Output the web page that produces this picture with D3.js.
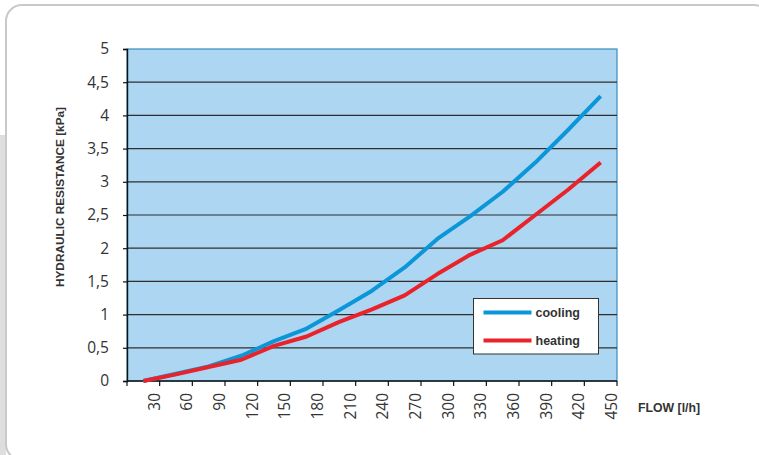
<!DOCTYPE html>
<html>
<head>
<meta charset="utf-8">
<script src="https://d3js.org/d3.v7.min.js"></script>
<style>
  body { margin: 0; background: #fff; }
  svg { display: block; }
</style>
</head>
<body>
<svg id="chart" width="759" height="455"></svg>
<script>
// flow categories [l/h]
const flows = [30, 60, 90, 120, 150, 180, 210, 240, 270, 300, 330, 360, 390, 420, 450];
// hydraulic resistance [kPa]
const cooling = [0, 0.11, 0.22, 0.38, 0.60, 0.79, 1.07, 1.36, 1.71, 2.14, 2.48, 2.85, 3.29, 3.78, 4.29];
const heating = [0, 0.10, 0.21, 0.32, 0.53, 0.67, 0.89, 1.08, 1.29, 1.61, 1.90, 2.12, 2.50, 2.88, 3.29];
const yTicks = [0, 0.5, 1, 1.5, 2, 2.5, 3, 3.5, 4, 4.5, 5];

const series = [
  { name: "cooling", values: cooling, colour: "#0a96d8" },
  { name: "heating", values: heating, colour: "#ea2229" },
];

const width = 759, height = 455;
const margin = { top: 49, right: 142, bottom: 74, left: 127 };
const plotW = width - margin.left - margin.right;
const plotH = height - margin.top - margin.bottom;

const svg = d3.select("#chart");

// panel background and rounded frame
svg.append("rect")
  .attr("x", 0).attr("y", 135).attr("width", 6).attr("height", 320)
  .attr("fill", "#dedede");
svg.append("rect")
  .attr("x", 6).attr("y", 5).attr("width", 764).attr("height", 455)
  .attr("rx", 16)
  .attr("fill", "#fff")
  .attr("stroke", "#c9c9c9")
  .attr("stroke-width", 2);

const g = svg.append("g")
  .attr("transform", `translate(${margin.left},${margin.top})`);

const x = d3.scaleBand().domain(flows).range([0, plotW]).padding(0);
const y = d3.scaleLinear().domain([0, 5]).range([plotH, 0]);

// plot area
g.append("rect")
  .attr("width", plotW).attr("height", plotH)
  .attr("fill", "#acd6f1")
  .attr("stroke", "#3a8dbd")
  .attr("stroke-width", 1.2);

// gridlines
g.append("g")
  .selectAll("line")
  .data(yTicks.filter((d) => d > 0 && d < 5))
  .join("line")
  .attr("x1", 0).attr("x2", plotW)
  .attr("y1", (d) => y(d)).attr("y2", (d) => y(d))
  .attr("stroke", "#2e2e2e")
  .attr("stroke-width", 1.2);

// y axis
const yAxis = g.append("g")
  .call(d3.axisLeft(y)
    .tickValues(yTicks)
    .tickSize(4)
    .tickPadding(14)
    .tickFormat((d) => String(d).replace(".", ",")));
yAxis.select(".domain").attr("stroke", "#111").attr("stroke-width", 1.4);
yAxis.selectAll(".tick line").attr("stroke", "#111").attr("stroke-width", 1.2);
yAxis.selectAll(".tick text")
  .attr("font-family", "Open Sans, sans-serif")
  .attr("font-size", 15.5)
  .attr("fill", "#333");

// x axis: ticks at band edges, labels on the right edge of each band
const xAxis = g.append("g").attr("transform", `translate(0,${plotH})`);
xAxis.append("line")
  .attr("x1", 0).attr("x2", plotW)
  .attr("stroke", "#111").attr("stroke-width", 1.4);
xAxis.append("line")
  .attr("x1", 0).attr("x2", 0).attr("y1", 0).attr("y2", 5)
  .attr("stroke", "#111").attr("stroke-width", 1.2);
const xt = xAxis.selectAll("g.xtick")
  .data(flows)
  .join("g")
  .attr("class", "xtick")
  .attr("transform", (d) => `translate(${x(d) + x.bandwidth()},0)`);
xt.append("line")
  .attr("y2", 5)
  .attr("stroke", "#111").attr("stroke-width", 1.2);
xt.append("text")
  .attr("transform", "translate(0,12) rotate(-90)")
  .attr("text-anchor", "end")
  .attr("font-family", "Open Sans, sans-serif")
  .attr("font-size", 15.5)
  .attr("fill", "#333")
  .text((d) => d);

// lines
const line = d3.line()
  .x((d, i) => x(flows[i]) + x.bandwidth() / 2)
  .y((d) => y(d));

g.append("g")
  .selectAll("path")
  .data(series)
  .join("path")
  .attr("fill", "none")
  .attr("stroke", (d) => d.colour)
  .attr("stroke-width", 4)
  .attr("stroke-linejoin", "round")
  .attr("d", (d) => line(d.values));

// legend
const legend = svg.append("g").attr("transform", "translate(473.5,298.5)");
legend.append("rect")
  .attr("width", 125).attr("height", 55.5)
  .attr("fill", "#fff")
  .attr("stroke", "#333")
  .attr("stroke-width", 1);
const item = legend.selectAll("g")
  .data(series)
  .join("g")
  .attr("transform", (d, i) => `translate(0,${14 + i * 28})`);
item.append("line")
  .attr("x1", 10).attr("x2", 58)
  .attr("stroke", (d) => d.colour)
  .attr("stroke-width", 4);
item.append("text")
  .attr("x", 62)
  .attr("dy", "0.35em")
  .attr("font-family", "Liberation Sans, Arial, sans-serif")
  .attr("font-weight", "bold")
  .attr("font-size", 12.5)
  .attr("fill", "#333")
  .text((d) => d.name);

// axis titles
svg.append("text")
  .attr("transform", "translate(64,197) rotate(-90)")
  .attr("text-anchor", "middle")
  .attr("font-family", "Liberation Sans, Arial, sans-serif")
  .attr("font-weight", "bold")
  .attr("font-size", 11.8)
  .attr("fill", "#333")
  .text("HYDRAULIC RESISTANCE [kPa]");

svg.append("text")
  .attr("x", 638)
  .attr("y", 412)
  .attr("font-family", "Liberation Sans, Arial, sans-serif")
  .attr("font-weight", "bold")
  .attr("font-size", 12.3)
  .attr("fill", "#333")
  .text("FLOW [l/h]");
</script>
</body>
</html>
